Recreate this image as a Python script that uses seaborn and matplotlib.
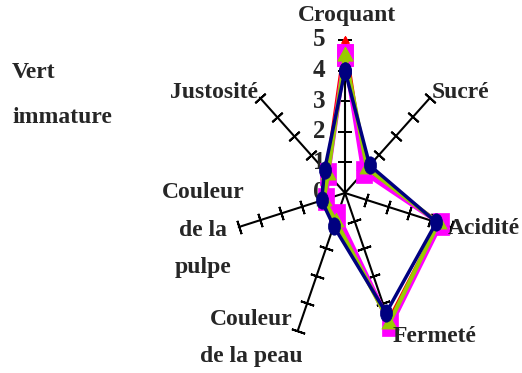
import numpy as np
import pandas as pd
import matplotlib
matplotlib.use('Agg')
import matplotlib.pyplot as plt
import seaborn as sns
from matplotlib.path import Path
from matplotlib.transforms import Affine2D

# categories (clockwise from top) and the four series
categories = ['Croquant', 'Sucré', 'Acidité', 'Fermeté',
              'Couleur de la peau', 'Couleur de la pulpe', 'Justosité']
cat_labels = ['Croquant', 'Sucré', 'Acidité', 'Fermeté',
              'Couleur\nde la peau', 'Couleur\nde la\npulpe', 'Justosité']
scale_ticks = [0, 1, 2, 3, 4, 5]

red_vals = [5.0, 1.2, 4.4, 4.6, 1.0, 1.0, 1.1]
pink_vals = [4.5, 1.1, 4.5, 4.8, 0.8, 0.9, 1.0]
green_vals = [4.5, 1.3, 4.4, 4.7, 1.0, 1.0, 1.0]
navy_vals = [4.0, 1.45, 4.3, 4.35, 1.2, 1.1, 1.2]

sns.set_theme(style='white')
plt.rcParams['font.family'] = ['Liberation Serif', 'DejaVu Serif']
plt.rcParams['font.weight'] = 'bold'

W, H = 522, 373
fig = plt.figure(figsize=(W / 100, H / 100), dpi=100)

# the original is squashed sideways, so the radar is an ellipse
cx, cy, rx, ry = 345, 193, 109, 153
ax = fig.add_axes([(cx - rx) / W, 1 - (cy + ry) / H, 2 * rx / W, 2 * ry / H],
                  projection='polar')
ax.set_aspect('auto')
ax.set_theta_zero_location('N')
ax.set_theta_direction(-1)
ax.patch.set_alpha(0)

theta = np.linspace(0, 2 * np.pi, len(categories), endpoint=False)
theta_closed = np.append(theta, theta[0] + 2 * np.pi)

# squeezed marker shapes
oval = Path.unit_circle().transformed(Affine2D().scale(0.7, 1))
rect = Path.unit_rectangle().transformed(Affine2D().translate(-0.5, -0.5).scale(0.68, 1))
tri = Path([(0, 0.6), (-0.55, -0.4), (0.55, -0.4), (0, 0.6)],
           [Path.MOVETO, Path.LINETO, Path.LINETO, Path.CLOSEPOLY])

series = [
    (red_vals, '#FF0000', 2.0, tri, 6, 3),
    (pink_vals, '#FF00FF', 3.5, rect, 16, 4),
    (green_vals, '#99CC00', 3.0, tri, 12, 5),
    (navy_vals, '#000080', 2.5, oval, 12.5, 6),
]
for vals, col, lw, mk, ms, z in series:
    df = pd.DataFrame({'theta': theta_closed, 'value': vals + vals[:1]})
    sns.lineplot(data=df, x='theta', y='value', sort=False, estimator=None, ax=ax,
                 color=col, lw=lw, marker=mk, ms=ms, mec=col, mfc=col, mew=0.5,
                 clip_on=False, zorder=z)

ax.set_thetalim(0, 2 * np.pi)
ax.set_ylim(0, 5)
ax.set_xlabel('')
ax.set_ylabel('')
ax.set_xticks([])
ax.set_yticks([])
ax.grid(False)
ax.spines['polar'].set_visible(False)

# spokes with crossing tick marks
for t in theta:
    ax.plot([t, t], [0, 5], color='black', lw=1.5, zorder=1, clip_on=False)
    p0 = ax.transData.transform((t, 0))
    p1 = ax.transData.transform((t, 5))
    phi = np.degrees(np.arctan2(p1[1] - p0[1], p1[0] - p0[0]))
    ax.plot([t] * 5, scale_ticks[1:], ls='none', marker=(2, 2, phi), ms=10,
            mec='black', mew=1.4, zorder=1, clip_on=False)

# scale numbers along the Croquant spoke
for k in scale_ticks:
    ax.annotate(str(k), xy=(0, k), xytext=(-14, 0), textcoords='offset points',
                ha='right', va='center', fontsize=18, fontweight='bold')

def fx(x):
    return x / W

def fy(y):
    return 1 - y / H

lab_kw = dict(fontsize=17, fontweight='bold', va='center', linespacing=2.05)
fig.text(fx(347), fy(15), cat_labels[0], ha='center', **lab_kw)
fig.text(fx(432), fy(93), cat_labels[1], ha='left', **lab_kw)
fig.text(fx(448), fy(228), cat_labels[2], ha='left', **lab_kw)
fig.text(fx(393), fy(337), cat_labels[3], ha='left', **lab_kw)
fig.text(fx(251), fy(338), cat_labels[4], ha='center', multialignment='center', **lab_kw)
fig.text(fx(203), fy(230), cat_labels[5], ha='center', multialignment='center', **lab_kw)
fig.text(fx(258), fy(93), cat_labels[6], ha='right', **lab_kw)
fig.text(fx(12), fy(95), 'Vert\nimmature', ha='left', fontsize=17,
         fontweight='bold', va='center', linespacing=2.45)

plt.savefig('out.png', dpi=100)
